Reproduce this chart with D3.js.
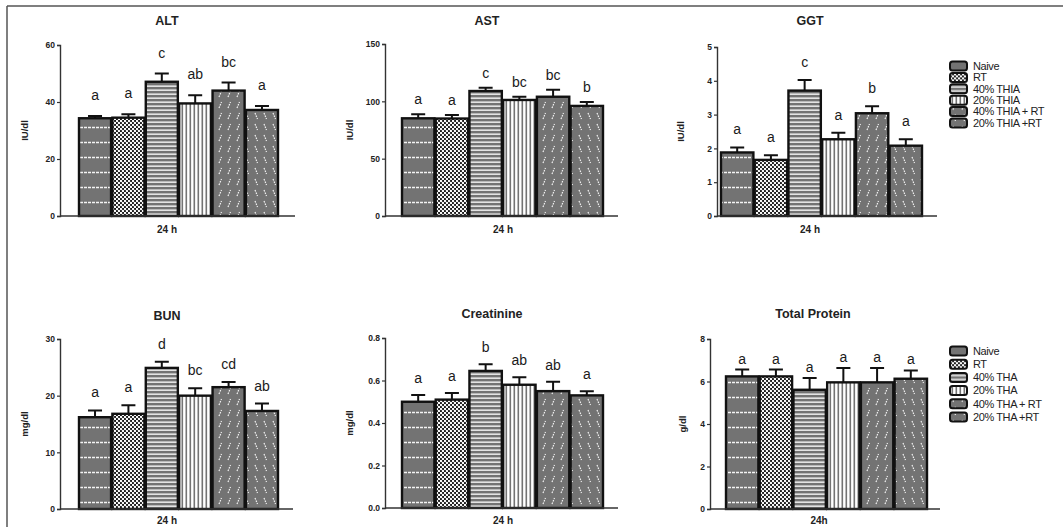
<!DOCTYPE html>
<html>
<head>
<meta charset="utf-8">
<script src="https://cdn.jsdelivr.net/npm/d3@7"></script>
<style>
  body { margin: 0; background: #fff; }
  svg { font-family: "Liberation Sans", Arial, sans-serif; }
</style>
</head>
<body>
<svg id="chart" width="1063" height="527"></svg>
<script>
// groups (bars) and legend texts
const groups = ["Naive", "RT", "40% THIA", "20% THIA", "40% THIA + RT", "20% THIA +RT"];
const legendTop = ["Naive", "RT", "40% THIA", "20% THIA", "40% THIA + RT", "20% THIA +RT"];
const legendBottom = ["Naive", "RT", "40% THA", "20% THA", "40% THA + RT", "20% THA +RT"];

const titles = ["ALT", "AST", "GGT", "BUN", "Creatinine", "Total Protein"];
const units = ["IU/dl", "IU/dl", "IU/dl", "mg/dl", "mg/dl", "g/dl"];
const xLabels = ["24 h", "24 h", "24 h", "24 h", "24 h", "24h"];
const yMax = [60, 150, 5, 30, 0.8, 8];
const yTicks = [
  [0, 20, 40, 60],
  [0, 50, 100, 150],
  [0, 1, 2, 3, 4, 5],
  [0, 10, 20, 30],
  [0.0, 0.2, 0.4, 0.6, 0.8],
  [0, 2, 4, 6, 8]
];

const altMean = [34.3, 34.5, 47.1, 39.5, 44.0, 37.2],
  astMean = [85.2, 85.0, 109, 101.2, 104, 96],
  ggtMean = [1.88, 1.66, 3.71, 2.27, 3.04, 2.08],
  bunMean = [16.2, 16.8, 24.9, 20.0, 21.5, 17.3],
  creMean = [0.50, 0.51, 0.645, 0.58, 0.55, 0.53],
  tpMean = [6.24, 6.24, 5.61, 5.96, 5.96, 6.13];

const altSem = [0.8, 1.2, 2.9, 2.9, 2.8, 1.4],
  astSem = [3.5, 3.0, 2.9, 2.8, 6.0, 3.4],
  ggtSem = [0.15, 0.14, 0.31, 0.19, 0.21, 0.19],
  bunSem = [1.2, 1.5, 1.1, 1.3, 0.9, 1.3],
  creSem = [0.032, 0.031, 0.031, 0.035, 0.044, 0.02],
  tpSem = [0.32, 0.32, 0.55, 0.68, 0.68, 0.39];

const altLetters = ["a", "a", "c", "ab", "bc", "a"],
  astLetters = ["a", "a", "c", "bc", "bc", "b"],
  ggtLetters = ["a", "a", "c", "a", "b", "a"],
  bunLetters = ["a", "a", "d", "bc", "cd", "ab"],
  creLetters = ["a", "a", "b", "ab", "ab", "a"],
  tpLetters = ["a", "a", "a", "a", "a", "a"];

const means = [altMean, astMean, ggtMean, bunMean, creMean, tpMean],
  sems = [altSem, astSem, ggtSem, bunSem, creSem, tpSem],
  letters = [altLetters, astLetters, ggtLetters, bunLetters, creLetters, tpLetters];

// panel layout (pixels)
const layout = [
  { ax: 60, top: 45, base: 216, b0: 79, b1: 278, end: 295, tx: 167, ty: 20, lx: 167, ly: 229, ylx: 25, off: 21 },
  { ax: 385, top: 44, base: 216, b0: 402, b1: 603, end: 618, tx: 487, ty: 20, lx: 503, ly: 229, ylx: 350, off: 15 },
  { ax: 717, top: 47, base: 216, b0: 721, b1: 922, end: 937, tx: 810, ty: 20, lx: 810, ly: 229, ylx: 681, off: 18 },
  { ax: 60, top: 339, base: 509, b0: 79, b1: 278, end: 293, tx: 167, ty: 315, lx: 167, ly: 520, ylx: 25, off: 18 },
  { ax: 385, top: 338, base: 508, b0: 402, b1: 603, end: 618, tx: 492, ty: 313, lx: 503, ly: 520, ylx: 350, off: 17 },
  { ax: 710, top: 339, base: 509, b0: 726, b1: 927, end: 940, tx: 813, ty: 313, lx: 819, ly: 520, ylx: 683, off: 11 }
];

const svg = d3.select("#chart");
const defs = svg.append("defs");
const GRAY = "#737373";

// fill patterns, one per group
function pat(id, w, h) {
  return defs.append("pattern").attr("id", id)
    .attr("patternUnits", "userSpaceOnUse").attr("width", w).attr("height", h);
}
let p = pat("p0", 16, 15);
p.append("rect").attr("width", 16).attr("height", 15).attr("fill", GRAY);
p.append("line").attr("x1", 0).attr("x2", 16).attr("y1", 7.5).attr("y2", 7.5)
  .attr("stroke", "#f4f4f4").attr("stroke-width", 1.5).attr("stroke-dasharray", "3,1");

p = pat("p1", 4, 4);
p.append("rect").attr("width", 4).attr("height", 4).attr("fill", "#1a1a1a");
p.append("circle").attr("cx", 1).attr("cy", 1).attr("r", 1.2).attr("fill", "#fff");
p.append("circle").attr("cx", 3).attr("cy", 3).attr("r", 1.2).attr("fill", "#fff");

p = pat("p2", 4, 4);
p.append("rect").attr("width", 4).attr("height", 4).attr("fill", GRAY);
p.append("rect").attr("y", 1.5).attr("width", 4).attr("height", 1.3).attr("fill", "#fff");

p = pat("p3", 4, 4);
p.append("rect").attr("width", 4).attr("height", 4).attr("fill", "#fff");
p.append("rect").attr("x", 1.5).attr("width", 1.6).attr("height", 4).attr("fill", GRAY);

p = pat("p4", 9, 11);
p.append("rect").attr("width", 9).attr("height", 11).attr("fill", GRAY);
p.append("line").attr("x1", 3).attr("y1", 9).attr("x2", 5.5).attr("y2", 3)
  .attr("stroke", "#f2f2f2").attr("stroke-width", 1.2).attr("stroke-dasharray", "1.6,1.1");

p = pat("p5", 9, 11);
p.append("rect").attr("width", 9).attr("height", 11).attr("fill", GRAY);
p.append("line").attr("x1", 3).attr("y1", 3).attr("x2", 5.5).attr("y2", 9)
  .attr("stroke", "#f2f2f2").attr("stroke-width", 1.2).attr("stroke-dasharray", "1.6,1.1");

const fills = groups.map((g, i) => "url(#p" + i + ")");

// frame (top and left edges)
svg.append("line").attr("x1", 7).attr("x2", 1063).attr("y1", 6).attr("y2", 6)
  .attr("stroke", "#555").attr("stroke-width", 1.5);
svg.append("line").attr("x1", 7).attr("x2", 7).attr("y1", 6).attr("y2", 527)
  .attr("stroke", "#555").attr("stroke-width", 1.5);

function renderPanel(i) {
  const L = layout[i],
    g = svg.append("g");

  const y = d3.scaleLinear().domain([0, yMax[i]]).range([L.base, L.top]);
  const x = d3.scaleBand().domain(groups).range([L.b0, L.b1]).paddingInner(0.04);

  const fmt = i === 4 ? d3.format(".1f") : d3.format("d");
  const yAxis = g.append("g")
    .attr("transform", `translate(${L.ax},0)`)
    .call(d3.axisLeft(y).tickValues(yTicks[i]).tickSize(3).tickFormat(fmt));
  yAxis.select(".domain").attr("stroke", "#333").attr("stroke-width", 1.4);
  yAxis.selectAll(".tick line").attr("stroke", "#333").attr("stroke-width", 1.2);
  yAxis.selectAll(".tick text").attr("font-size", 8.5).attr("font-weight", "bold")
    .attr("fill", "#222").attr("x", -5);

  // error bars
  const cap = 7;
  g.append("g").selectAll("path")
    .data(groups)
    .join("path")
    .attr("d", (d, k) => {
      const cx = x(d) + x.bandwidth() / 2,
        yt = y(means[i][k] + sems[i][k]);
      return `M${cx},${y(means[i][k])}V${yt}M${cx - cap},${yt}H${cx + cap}`;
    })
    .attr("stroke", "#111").attr("stroke-width", 2).attr("fill", "none");

  // bars
  g.append("g").selectAll("rect")
    .data(groups)
    .join("rect")
    .attr("x", d => x(d))
    .attr("width", x.bandwidth())
    .attr("y", (d, k) => y(means[i][k]))
    .attr("height", (d, k) => L.base - y(means[i][k]))
    .attr("fill", (d, k) => fills[k])
    .attr("stroke", "#111").attr("stroke-width", 2.4);

  // x axis line
  g.append("line").attr("x1", L.ax).attr("x2", L.end).attr("y1", L.base).attr("y2", L.base)
    .attr("stroke", "#333").attr("stroke-width", 1.6);

  // significance letters
  g.append("g").selectAll("text")
    .data(groups)
    .join("text")
    .attr("x", d => x(d) + x.bandwidth() / 2)
    .attr("y", (d, k) => y(means[i][k] + sems[i][k]) - L.off + 5)
    .attr("text-anchor", "middle")
    .attr("font-size", 14)
    .attr("fill", "#1a1a1a")
    .text((d, k) => letters[i][k]);

  g.append("text").attr("x", L.tx).attr("y", L.ty + 5)
    .attr("text-anchor", "middle").attr("font-size", 12.5).attr("font-weight", "bold")
    .attr("fill", "#222").text(titles[i]);

  g.append("text").attr("x", L.lx).attr("y", L.ly + 4)
    .attr("text-anchor", "middle").attr("font-size", 10).attr("font-weight", "bold")
    .attr("fill", "#222").text(xLabels[i]);

  g.append("text")
    .attr("transform", `translate(${L.ylx},${(L.top + L.base) / 2}) rotate(-90)`)
    .attr("text-anchor", "middle").attr("dy", "0.35em")
    .attr("font-size", 9.5).attr("font-weight", "bold")
    .attr("fill", "#222").text(units[i]);
}

d3.range(6).forEach(renderPanel);

function renderLegend(labels, y0, step) {
  const lg = svg.append("g").selectAll("g")
    .data(labels)
    .join("g")
    .attr("transform", (d, k) => `translate(950,${y0 + k * step})`);
  lg.append("rect").attr("x", 0).attr("y", -4.5).attr("width", 17).attr("height", 9)
    .attr("rx", 2.5).attr("fill", (d, k) => fills[k])
    .attr("stroke", "#111").attr("stroke-width", 2);
  lg.append("text").attr("x", 23).attr("dy", "0.35em")
    .attr("font-size", 11).attr("fill", "#222").attr("letter-spacing", -0.4)
    .text(d => d);
}

renderLegend(legendTop, 66, 11.4);
renderLegend(legendBottom, 351, 13.2);
</script>
</body>
</html>
